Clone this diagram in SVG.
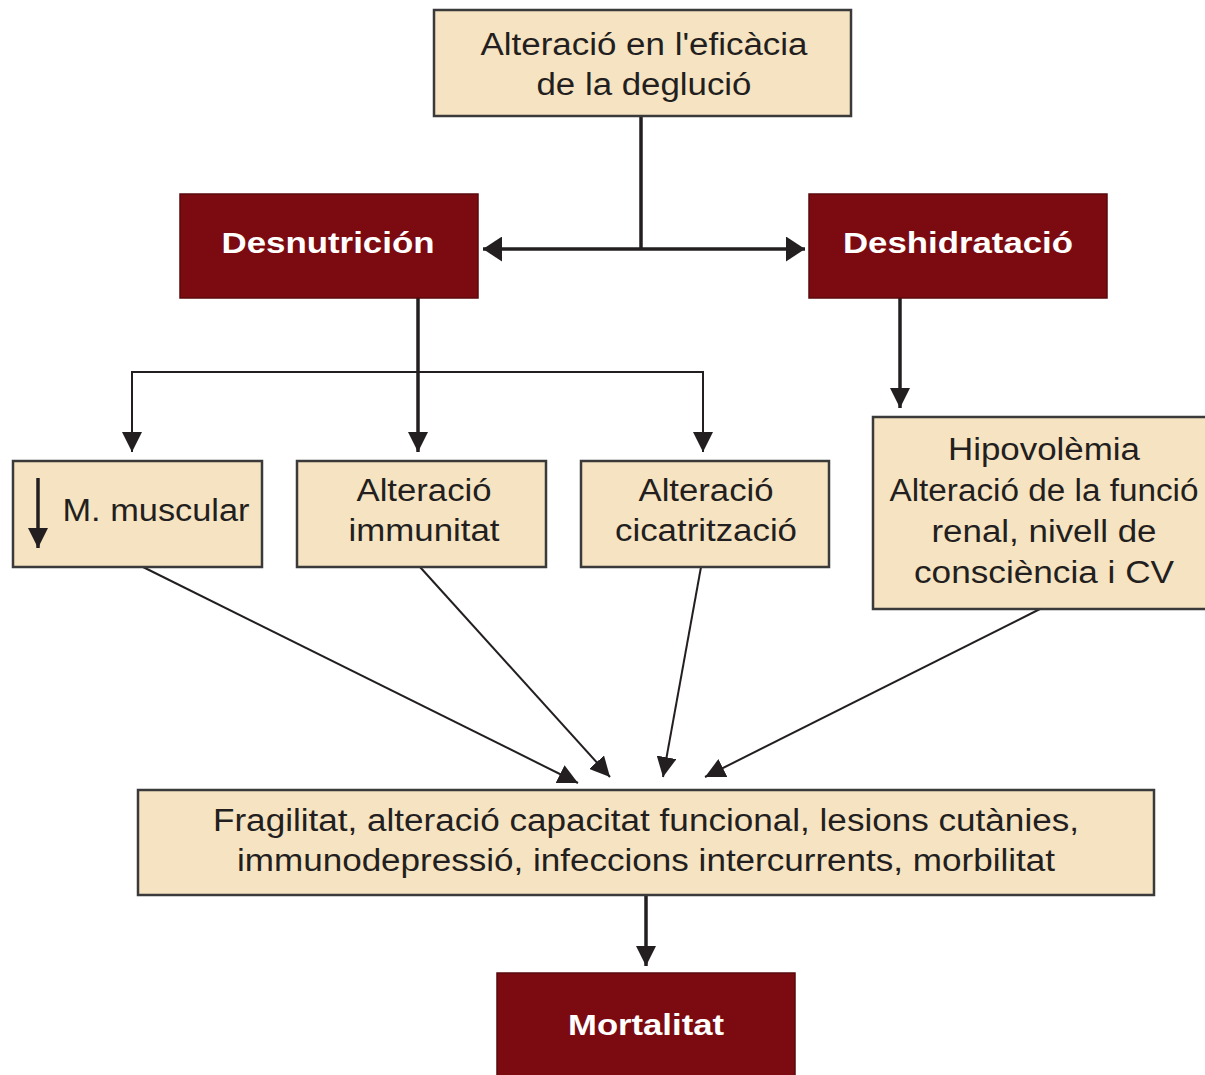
<svg xmlns="http://www.w3.org/2000/svg" width="1205" height="1075" viewBox="0 0 1205 1075">
<style>
.b{fill:#f6e3c1;stroke:#3a3a3a;stroke-width:2.5}
.r{fill:#7c0a11;stroke:#5a0a0c;stroke-width:1.5}
.t{font-family:"Liberation Sans",Arial,sans-serif;font-size:31px;fill:#231f20;text-anchor:middle}
.w{font-family:"Liberation Sans",Arial,sans-serif;font-size:30px;font-weight:bold;fill:#ffffff;text-anchor:middle}
.c{fill:none;stroke:#231f20}
</style>
<defs>
<marker id="m" viewBox="0 0 10 10" refX="10" refY="5" markerWidth="20" markerHeight="20" markerUnits="userSpaceOnUse" orient="auto-start-reverse"><path d="M0,0L10,5L0,10z" fill="#231f20"/></marker>
<marker id="h" viewBox="0 0 10 10" refX="10" refY="5" markerWidth="19" markerHeight="25" markerUnits="userSpaceOnUse" orient="auto-start-reverse" preserveAspectRatio="none"><path d="M0,0L10,5L0,10z" fill="#231f20"/></marker>
</defs>
<rect width="1205" height="1075" fill="#ffffff"/>
<g id="connectors">
<path class="c" stroke-width="3.5" d="M641,116V249"/>
<path class="c" stroke-width="3.5" d="M483,249H805" marker-start="url(#h)" marker-end="url(#h)"/>
<path class="c" stroke-width="3.5" d="M418,298V452" marker-end="url(#m)"/>
<path class="c" stroke-width="2" d="M132,452V372H703V452" marker-start="url(#m)" marker-end="url(#m)"/>
<path class="c" stroke-width="3.5" d="M900,298V408" marker-end="url(#m)"/>
<path class="c" stroke-width="2" d="M143,567L578,783" marker-end="url(#m)"/>
<path class="c" stroke-width="2" d="M420,567L610,777" marker-end="url(#m)"/>
<path class="c" stroke-width="2" d="M701,567L663,777" marker-end="url(#m)"/>
<path class="c" stroke-width="2" d="M1040,609L705,777" marker-end="url(#m)"/>
<path class="c" stroke-width="3.5" d="M646,895V966" marker-end="url(#m)"/>
</g>
<g id="n1"><rect class="b" x="434" y="10" width="417" height="106"/>
<text class="t" x="644" y="55" textLength="327" lengthAdjust="spacingAndGlyphs">Alteració en l'eficàcia</text>
<text class="t" x="644" y="95" textLength="215" lengthAdjust="spacingAndGlyphs">de la deglució</text></g>
<g id="n2"><rect class="r" x="180" y="194" width="298" height="104"/>
<text class="w" x="328" y="253" textLength="213" lengthAdjust="spacingAndGlyphs">Desnutrición</text></g>
<g id="n3"><rect class="r" x="809" y="194" width="298" height="104"/>
<text class="w" x="958" y="253" textLength="230" lengthAdjust="spacingAndGlyphs">Deshidratació</text></g>
<g id="n4"><rect class="b" x="13" y="461" width="249" height="106"/>
<path class="c" stroke-width="3.5" d="M38,478V548" marker-end="url(#m)"/>
<text class="t" x="156" y="521" textLength="187" lengthAdjust="spacingAndGlyphs">M. muscular</text></g>
<g id="n5"><rect class="b" x="297" y="461" width="249" height="106"/>
<text class="t" x="424" y="501" textLength="135" lengthAdjust="spacingAndGlyphs">Alteració</text>
<text class="t" x="424" y="541" textLength="151" lengthAdjust="spacingAndGlyphs">immunitat</text></g>
<g id="n6"><rect class="b" x="581" y="461" width="248" height="106"/>
<text class="t" x="706" y="501" textLength="135" lengthAdjust="spacingAndGlyphs">Alteració</text>
<text class="t" x="706" y="541" textLength="182" lengthAdjust="spacingAndGlyphs">cicatrització</text></g>
<g id="n7"><rect class="b" x="873" y="417" width="340" height="192"/>
<text class="t" x="1044" y="460" textLength="192" lengthAdjust="spacingAndGlyphs">Hipovolèmia</text>
<text class="t" x="1044" y="501" textLength="309" lengthAdjust="spacingAndGlyphs">Alteració de la funció</text>
<text class="t" x="1044" y="542" textLength="225" lengthAdjust="spacingAndGlyphs">renal, nivell de</text>
<text class="t" x="1044" y="583" textLength="260" lengthAdjust="spacingAndGlyphs">consciència i CV</text></g>
<g id="n8"><rect class="b" x="138" y="790" width="1016" height="105"/>
<text class="t" x="646" y="831" textLength="866" lengthAdjust="spacingAndGlyphs">Fragilitat, alteració capacitat funcional, lesions cutànies,</text>
<text class="t" x="646" y="871" textLength="818" lengthAdjust="spacingAndGlyphs">immunodepressió, infeccions intercurrents, morbilitat</text></g>
<g id="n9"><rect class="r" x="497" y="973" width="298" height="110"/>
<text class="w" x="646" y="1035" textLength="156" lengthAdjust="spacingAndGlyphs">Mortalitat</text></g>
</svg>
